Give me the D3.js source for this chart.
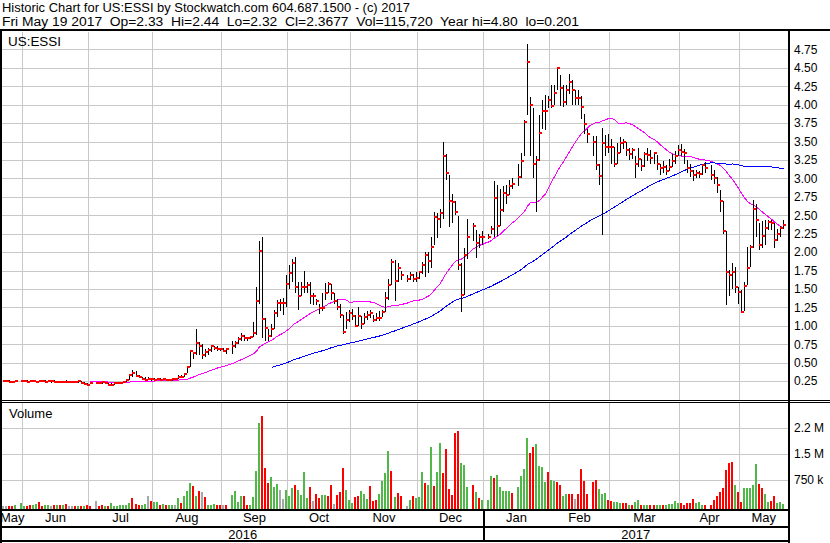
<!DOCTYPE html>
<html>
<head>
<meta charset="utf-8">
<script src="https://cdn.jsdelivr.net/npm/d3@7"></script>
<style>
body { margin: 0; background: #fff; }
svg { display: block; font-family: "Liberation Sans", Arial, sans-serif; }
</style>
</head>
<body>
<div id="stock_chart"></div>
<script>
var titleLine1 = "Historic Chart for US:ESSI by Stockwatch.com 604.687.1500 - (c) 2017";
var titleLine2 = "Fri May 19 2017  Op=2.33  Hi=2.44  Lo=2.32  Cl=2.3677  Vol=115,720  Year hi=4.80  lo=0.201";
var symbolName = "US:ESSI";

// one slot per weekday, May 23 2016 .. May 19 2017, null = market holiday
var highs = [
    .26,.26,.26,.25,.26,null,.26,.26,.26,.26,  .26,.25,.26,.26,.26,.26,.25,.26,.25,.25,
    .25,.26,.25,.25,.25,.26,.25,.24,.22,.24,  null,.24,.24,.24,.24,.23,.22,.23,.24,.24,
    .25,.28,.35,.40,.38,.33,.31,.30,.30,.29,  .29,.29,.29,.29,.28,.28,.28,.29,.33,.33,
    .36,.46,.67,.65,.95,.78,.75,.68,.70,.74,  .72,.72,.70,.70,.70,null,.80,.80,.85,.90,
    .88,.85,.86,1.05,1.53,2.15,2.20,1.10,.95,1.02,  1.22,1.35,1.37,1.38,1.69,1.83,1.90,1.93,1.60,1.60,
    1.75,1.60,1.60,1.45,1.37,1.30,1.44,1.58,1.60,1.57,  1.44,1.37,1.30,1.15,1.19,1.22,1.23,1.15,1.26,1.13,
    1.17,1.20,1.21,1.15,1.17,1.20,1.21,1.46,1.64,1.90,  1.89,1.85,1.74,null,1.69,1.73,1.70,1.73,1.75,1.87,
    2.00,2.00,2.20,2.54,2.53,2.58,3.50,3.33,3.04,2.79,  2.70,2.49,1.85,2.05,2.45,null,2.40,2.30,2.25,2.28,
    null,2.25,2.35,2.97,2.91,2.85,2.90,2.91,2.98,3.01,  null,3.20,3.34,3.79,4.82,4.10,3.96,3.30,3.86,4.06,
    4.13,4.12,4.27,4.27,4.50,4.40,4.27,4.27,4.41,4.34,  4.20,4.20,4.12,3.88,3.67,null,3.57,3.57,3.20,3.68,
    3.59,3.60,3.53,3.43,3.48,3.56,3.54,3.50,3.41,3.41,  3.30,3.41,3.27,3.36,3.41,3.38,3.36,3.32,3.20,3.23,
    3.18,3.26,3.33,3.37,3.45,3.46,3.40,3.25,3.20,3.11,  3.12,3.10,3.20,3.22,null,3.18,3.12,3.02,2.84,2.70,
    2.28,1.76,1.85,1.80,1.53,1.49,1.60,2.07,2.10,2.71,  2.65,2.40,2.42,2.44,2.44,2.43,2.40,2.32,2.36,2.44
];
var lows = [
    .24,.24,.23,.23,.24,null,.24,.24,.23,.24,  .24,.23,.24,.24,.23,.24,.24,.23,.23,.23,
    .23,.23,.23,.23,.23,.23,.22,.20,.18,.22,  null,.22,.22,.22,.22,.19,.19,.20,.22,.22,
    .23,.24,.26,.31,.30,.29,.27,.26,.26,.25,  .26,.26,.26,.27,.26,.26,.27,.27,.28,.29,
    .30,.36,.44,.55,.60,.60,.55,.58,.60,.65,  .67,.66,.66,.64,.62,null,.62,.70,.75,.80,
    .80,.80,.82,.85,.88,1.30,.83,.80,.80,.85,  .95,1.12,1.20,1.15,1.25,1.50,1.60,1.45,1.22,1.40,
    1.45,1.45,1.30,1.28,1.28,1.16,1.20,1.35,1.45,1.35,  1.30,1.22,1.10,.89,.95,1.05,1.08,.98,1.00,.96,
    1.02,1.08,1.10,1.05,1.06,1.07,1.12,1.19,1.35,1.55,  1.33,1.60,1.62,null,1.60,1.62,1.60,1.60,1.64,1.70,
    1.66,1.72,1.78,2.10,2.19,2.33,2.45,2.98,2.34,2.40,  2.50,1.76,1.19,1.42,1.90,null,2.15,1.92,2.05,2.10,
    null,2.18,2.25,2.20,2.22,2.35,2.55,2.65,2.78,2.85,  null,2.90,3.00,3.30,3.86,3.30,3.00,2.55,3.24,3.67,
    3.66,3.95,3.95,4.00,4.20,3.98,3.97,4.00,4.15,4.00,  4.00,3.99,3.80,3.60,3.48,null,3.30,3.11,2.91,2.23,
    3.30,3.35,3.20,3.15,3.20,3.35,3.40,3.30,3.25,3.27,  3.00,3.15,3.10,3.15,3.24,3.20,3.20,3.12,3.05,3.07,
    3.05,3.10,3.15,3.20,3.30,3.30,3.20,3.08,3.02,2.97,  3.00,3.00,3.05,3.08,null,2.98,2.92,2.80,2.55,2.25,
    1.28,1.40,1.50,1.45,1.30,1.17,1.20,1.55,1.80,2.05,  2.20,2.03,2.05,2.10,2.30,2.30,2.06,2.15,2.20,2.32
];
var closes = [
    .25,.25,.24,.24,.25,null,.25,.25,.24,.25,  .25,.24,.25,.25,.24,.25,.25,.24,.24,.24,
    .24,.24,.24,.24,.24,.25,.23,.21,.19,.23,  null,.23,.23,.24,.23,.20,.20,.23,.23,.23,
    .24,.27,.33,.36,.32,.31,.28,.27,.28,.28,  .27,.28,.27,.28,.27,.27,.28,.28,.31,.30,
    .34,.44,.66,.63,.76,.73,.60,.64,.67,.72,  .70,.69,.69,.66,.68,null,.73,.76,.82,.86,
    .83,.83,.85,.90,1.34,2.02,1.09,.97,.86,.95,  1.18,1.31,1.31,1.31,1.57,1.72,1.85,1.52,1.40,1.53,
    1.53,1.55,1.40,1.40,1.33,1.24,1.24,1.45,1.57,1.44,  1.34,1.26,1.14,.92,1.08,1.18,1.13,1.00,1.13,1.02,
    1.12,1.14,1.18,1.08,1.11,1.10,1.19,1.38,1.55,1.87,  1.61,1.79,1.69,null,1.64,1.69,1.64,1.65,1.73,1.82,
    1.96,1.88,2.07,2.47,2.45,2.53,3.31,3.08,2.70,2.68,  2.55,1.82,1.42,1.96,2.20,null,2.35,2.12,2.20,2.20,
    null,2.21,2.32,2.74,2.35,2.57,2.80,2.77,2.90,2.93,  null,3.02,3.24,3.77,4.58,4.00,3.20,3.25,3.62,3.92,
    3.92,4.06,3.98,4.16,4.50,4.23,4.04,4.20,4.31,4.20,  4.09,4.09,3.97,3.74,3.60,null,3.50,3.18,3.03,3.48,
    3.43,3.42,3.43,3.19,3.35,3.48,3.50,3.39,3.33,3.39,  3.19,3.27,3.17,3.33,3.32,3.28,3.35,3.20,3.14,3.16,
    3.10,3.16,3.23,3.31,3.39,3.36,3.35,3.14,3.10,3.04,  3.07,3.06,3.18,3.14,null,3.04,3.00,2.91,2.70,2.29,
    1.73,1.69,1.73,1.53,1.46,1.19,1.54,1.79,2.07,2.59,  2.44,2.10,2.22,2.33,2.41,2.40,2.16,2.25,2.33,2.37
];
// volume in thousands of shares
var volumes = [
    10,8,5,8,15,null,90,10,10,20,  15,60,105,10,30,15,10,15,30,15,
    15,60,5,5,5,5,5,5,15,12,  null,145,10,30,5,10,75,5,5,15,
    20,30,95,230,60,15,30,60,290,145,  105,105,15,50,20,20,25,15,220,85,
    300,430,660,585,290,440,400,250,30,30,  50,20,30,15,15,null,325,430,125,280,
    290,15,30,260,1010,2390,2600,1105,660,835,  550,635,460,200,470,300,510,605,470,315,
    980,240,550,145,345,230,315,325,300,605,  60,315,400,1095,470,165,85,260,300,440,
    345,190,575,145,165,345,720,940,1575,1010,  260,375,290,null,10,165,285,220,260,980,
    660,605,1690,575,980,1810,950,1645,490,325,  2115,2165,1240,1180,550,null,605,405,220,175,
    null,175,865,805,895,550,430,430,430,375,  null,550,865,1065,1960,1530,1700,1790,1155,1125,
    690,980,750,720,680,605,290,345,345,345,  200,335,1065,720,345,null,690,740,490,355,
    375,180,135,115,115,85,95,75,30,30,  125,165,30,40,40,30,30,30,30,15,
    30,50,65,135,85,95,15,75,85,190,  85,105,30,15,null,30,165,290,415,510,
    1030,1230,1260,605,395,115,510,510,510,605,  1210,625,510,335,125,145,280,95,115,60
];
// g = up day, r = down day, n = unchanged, - = holiday
var volumeDirs = [
    "nnrrg-ggrr", "ggrrggnrgr", "grnnrgrgrr", "-nrrgrgggg", "gggrrrggnr", "ggrgrggngr",
    "gggrgrnrgg", "grrnr-gggg", "rrggggrrrg", "ggnngggrgg", "ggrnrrggrr", "nrrrgggrrg",
    "ggrrrggggr", "grr-ngrggg", "rggrggrrrr", "rrggg-rgrg", "-ggrgggggr", "-ggggrrggg",
    "grggrrggrr", "nrrrr-rrgg", "grrgggrrgr", "ggrggrrggr", "gggggrrrrr", "gggr-rrrrr",
    "rrrgrrgggg", "grrggrrggg"
].join("");

var monthNames  = ["May", "Jun", "Jul", "Aug", "Sep", "Oct", "Nov", "Dec", "Jan", "Feb", "Mar", "Apr", "May"];
var monthStarts = [0, 7, 29, 50, 73, 95, 116, 138, 160, 182, 202, 225, 245];
var yearNames  = ["2016", "2017"];
var yearStarts = [0, 160];

var priceTicks = [0.25, 0.50, 0.75, 1.00, 1.25, 1.50, 1.75, 2.00, 2.25, 2.50,
                  2.75, 3.00, 3.25, 3.50, 3.75, 4.00, 4.25, 4.50, 4.75];
var volumeTicks = [750, 1500, 2250];
var volumeTickLabels = ["750 k", "1.5 M", "2.2 M"];

var movingAverages = [
    {period: 30, color: "#ff00ff"},
    {period: 90, color: "#0000ff"}
];

////////////////////////////////////////////////////////////////////////////////////////////////

var chartWidth = 830, chartHeight = 543;
var plotLeft = 2, plotRight = 788;
var priceTop = 32, priceBottom = 400;
var volTop = 403, volBottom = 509;
var gridColor = "#c8c8c8";
var dirColor = {g: "#4fb848", r: "#ff0000", n: "#a8a8a8"};

function movingAverage(values, period) {
    var filled = [], last = null, out = [];
    values.forEach(function(v) {
        if (v != null) last = v;
        filled.push(last);
    });
    for (var i = period - 1; i < filled.length; i++) {
        out.push({i: i, v: d3.mean(filled.slice(i - period + 1, i + 1))});
    }
    return out;
}

function drawChart() {
    var svg = d3.select("#stock_chart").append("svg")
        .attr("width", chartWidth)
        .attr("height", chartHeight);

    svg.append("rect").attr("width", chartWidth).attr("height", chartHeight).attr("fill", "#fff");

    var x = d3.scaleLinear().domain([0, closes.length - 1]).range([3, 783]);
    var px = function(i) { return Math.round(x(i)); };
    var y = d3.scaleLinear().domain([0, 5]).range([399.5, 31]);
    var yv = d3.scaleLinear().domain([0, 2250]).range([506, 428]);

    var days = d3.range(closes.length).filter(function(i) { return closes[i] != null; });

    // grid
    var grid = svg.append("g")
        .attr("stroke", gridColor)
        .attr("shape-rendering", "crispEdges");

    grid.selectAll(".hp").data(priceTicks).enter().append("line")
        .attr("x1", plotLeft).attr("x2", plotRight)
        .attr("y1", function(d) { return Math.round(y(d)) + 0.5; })
        .attr("y2", function(d) { return Math.round(y(d)) + 0.5; });

    grid.selectAll(".hv").data(volumeTicks).enter().append("line")
        .attr("x1", plotLeft).attr("x2", plotRight)
        .attr("y1", function(d) { return Math.round(yv(d)) + 0.5; })
        .attr("y2", function(d) { return Math.round(yv(d)) + 0.5; });

    var monthLines = monthStarts.slice(1);
    [[priceTop, priceBottom], [volTop, volBottom]].forEach(function(span) {
        grid.selectAll(null).data(monthLines).enter().append("line")
            .attr("x1", function(d) { return px(d) - 1.5; })
            .attr("x2", function(d) { return px(d) - 1.5; })
            .attr("y1", span[0]).attr("y2", span[1]);
    });

    // moving averages
    var line = d3.line()
        .x(function(d) { return px(d.i) + 0.5; })
        .y(function(d) { return y(d.v); });
    movingAverages.forEach(function(ma) {
        svg.append("path")
            .datum(movingAverage(closes, ma.period))
            .attr("fill", "none")
            .attr("stroke", ma.color)
            .attr("stroke-width", 1)
            .attr("shape-rendering", "crispEdges")
            .attr("d", line);
    });

    // high-low bars with close tick
    var bars = svg.append("g").attr("shape-rendering", "crispEdges");
    bars.selectAll("line").data(days).enter().append("line")
        .attr("x1", function(i) { return px(i) + 0.5; })
        .attr("x2", function(i) { return px(i) + 0.5; })
        .attr("y1", function(i) { return Math.round(y(highs[i])); })
        .attr("y2", function(i) { return Math.max(Math.round(y(lows[i])), Math.round(y(highs[i])) + 2); })
        .attr("stroke", "#000");
    bars.selectAll("rect").data(days).enter().append("rect")
        .attr("x", function(i) { return px(i); })
        .attr("y", function(i) { return Math.round(y(closes[i])) - 1; })
        .attr("width", 3)
        .attr("height", 2)
        .attr("fill", "#ff0000");

    // volume
    svg.append("g").attr("shape-rendering", "crispEdges")
        .selectAll("rect").data(days).enter().append("rect")
        .attr("x", function(i) { return px(i) - 1; })
        .attr("y", function(i) { return Math.min(Math.round(yv(volumes[i])), volBottom - 1); })
        .attr("width", 2)
        .attr("height", function(i) { return volBottom - Math.min(Math.round(yv(volumes[i])), volBottom - 1); })
        .attr("fill", function(i) { return dirColor[volumeDirs[i]]; });

    // frame
    var frame = svg.append("g").attr("fill", "#000").attr("shape-rendering", "crispEdges");
    [[0, 29, chartWidth, 2],
     [0, 29, 2, 514],
     [plotRight, 29, 2, 514],
     [0, 400, chartWidth, 1],
     [0, 402, chartWidth, 1],
     [0, 509, plotRight, 2],
     [0, 526, plotRight, 2],
     [0, 540, plotRight, 2]].forEach(function(r) {
        frame.append("rect").attr("x", r[0]).attr("y", r[1]).attr("width", r[2]).attr("height", r[3]);
    });
    var yearLineX = px(yearStarts[1]) - 1.5;
    svg.append("line")
        .attr("x1", yearLineX).attr("x2", yearLineX)
        .attr("y1", 509).attr("y2", 542)
        .attr("stroke", "#000").attr("stroke-width", 2)
        .attr("shape-rendering", "crispEdges");

    // titles
    var text = svg.append("g").attr("font-size", 13).attr("fill", "#000");
    text.append("text").attr("x", 2).attr("y", 11.5)
        .attr("font-size", 12.5)
        .attr("textLength", 408).attr("lengthAdjust", "spacingAndGlyphs")
        .style("white-space", "pre").text(titleLine1);
    text.append("text").attr("x", 2).attr("y", 25.5)
        .attr("font-size", 12.5)
        .attr("textLength", 577).attr("lengthAdjust", "spacingAndGlyphs")
        .style("white-space", "pre").text(titleLine2);
    text.append("text").attr("x", 8).attr("y", 46)
        .attr("textLength", 53).attr("lengthAdjust", "spacingAndGlyphs")
        .text(symbolName);
    text.append("text").attr("x", 9).attr("y", 418).text("Volume");

    // month and year labels
    var bounds = monthStarts.map(function(s, k) { return k === 0 ? plotLeft : px(s) - 1.5; });
    bounds.push(plotRight);
    text.selectAll(".month").data(monthNames).enter().append("text")
        .attr("x", function(d, k) { return (bounds[k] + bounds[k + 1]) / 2; })
        .attr("y", 522)
        .attr("text-anchor", "middle")
        .text(function(d) { return d; });
    var yearBounds = [plotLeft, yearLineX, plotRight];
    text.selectAll(".year").data(yearNames).enter().append("text")
        .attr("x", function(d, k) { return (yearBounds[k] + yearBounds[k + 1]) / 2; })
        .attr("y", 539)
        .attr("text-anchor", "middle")
        .text(function(d) { return d; });

    // right axes
    var priceAxis = svg.append("g")
        .attr("transform", "translate(" + (plotRight + 2) + ",0)")
        .call(d3.axisRight(y).tickValues(priceTicks).tickFormat(d3.format(".2f")).tickSize(0).tickPadding(4));
    var volAxis = svg.append("g")
        .attr("transform", "translate(" + (plotRight + 2) + ",0)")
        .call(d3.axisRight(yv).tickValues(volumeTicks)
            .tickFormat(function(d, k) { return volumeTickLabels[k]; })
            .tickSize(0).tickPadding(4));
    [priceAxis, volAxis].forEach(function(a) {
        a.select(".domain").remove();
        a.selectAll("text")
            .attr("font-size", 12)
            .attr("font-family", "\"Liberation Sans\", Arial, sans-serif")
            .attr("fill", "#000");
    });
}

drawChart();
</script>
</body>
</html>
